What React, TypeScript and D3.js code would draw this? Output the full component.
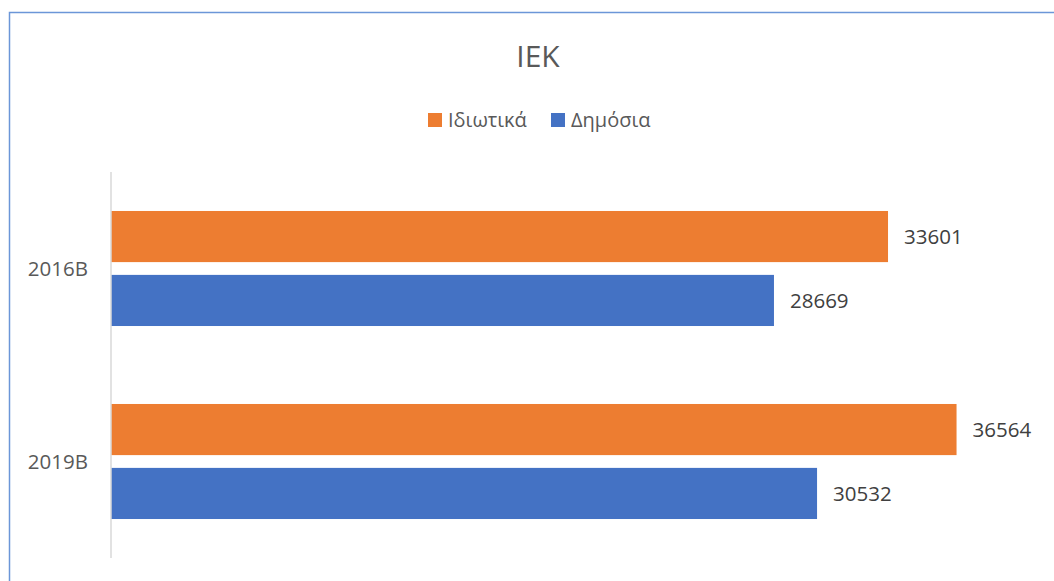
import * as d3 from "d3";

const categories = ["2016B", "2019B"];
const seriesNames = ["Ιδιωτικά", "Δημόσια"];
const privateValues = [33601, 36564];
const publicValues = [28669, 30532];
const seriesColors = ["#ED7D31", "#4472C4"];

const W = 1054;
const H = 581;
const font = "'Open Sans', 'Noto Sans', sans-serif";

export default function App() {
  const plot = { left: 111, right: 1036, top: 172, bottom: 558 };

  const x = d3.scaleLinear().domain([0, 40000]).range([plot.left, plot.right]);
  const y = d3
    .scaleBand<string>()
    .domain(categories)
    .range([plot.top, plot.bottom])
    .paddingInner(0.404)
    .paddingOuter(0.202);
  const inner = d3
    .scaleBand<string>()
    .domain(seriesNames)
    .range([0, y.bandwidth()])
    .paddingInner(0.2);

  const values = [privateValues, publicValues];

  return (
    <svg
      width={W}
      height={H}
      style={{ position: "absolute", left: 0, top: 0, background: "#fff" }}
    >
      {/* chart frame */}
      <rect x={9.5} y={12.5} width={W + 20} height={H + 20} fill="none" stroke="#6b96d8" strokeWidth={1.5} />

      <text x={538} y={67} textAnchor="middle" fontFamily={font} fontSize={30} fill="#595959">
        IEK
      </text>

      {/* legend */}
      <g fontFamily={font} fontSize={20} fill="#595959">
        <rect x={428} y={113} width={14} height={14} fill={seriesColors[0]} />
        <text x={448} y={127}>{seriesNames[0]}</text>
        <rect x={551} y={113} width={14} height={14} fill={seriesColors[1]} />
        <text x={571} y={127}>{seriesNames[1]}</text>
      </g>

      {/* bars */}
      {categories.map((c, ci) =>
        seriesNames.map((s, si) => {
          const v = values[si][ci];
          const by = (y(c) ?? 0) + (inner(s) ?? 0);
          return (
            <g key={c + s}>
              <rect
                x={x(0)}
                y={by}
                width={x(v) - x(0)}
                height={inner.bandwidth()}
                fill={seriesColors[si]}
              />
              <text
                x={x(v) + 16}
                y={by + inner.bandwidth() / 2}
                dy="0.35em"
                fontFamily={font}
                fontSize={20.5}
                fill="#404040"
              >
                {v}
              </text>
            </g>
          );
        })
      )}

      {/* category axis */}
      <line x1={x(0)} x2={x(0)} y1={plot.top} y2={plot.bottom} stroke="#d9d9d9" strokeWidth={1.5} />
      {categories.map((c) => (
        <text
          key={c}
          x={88}
          y={(y(c) ?? 0) + y.bandwidth() / 2}
          dy="0.35em"
          textAnchor="end"
          fontFamily={font}
          fontSize={20.5}
          fill="#595959"
        >
          {c}
        </text>
      ))}
    </svg>
  );
}
